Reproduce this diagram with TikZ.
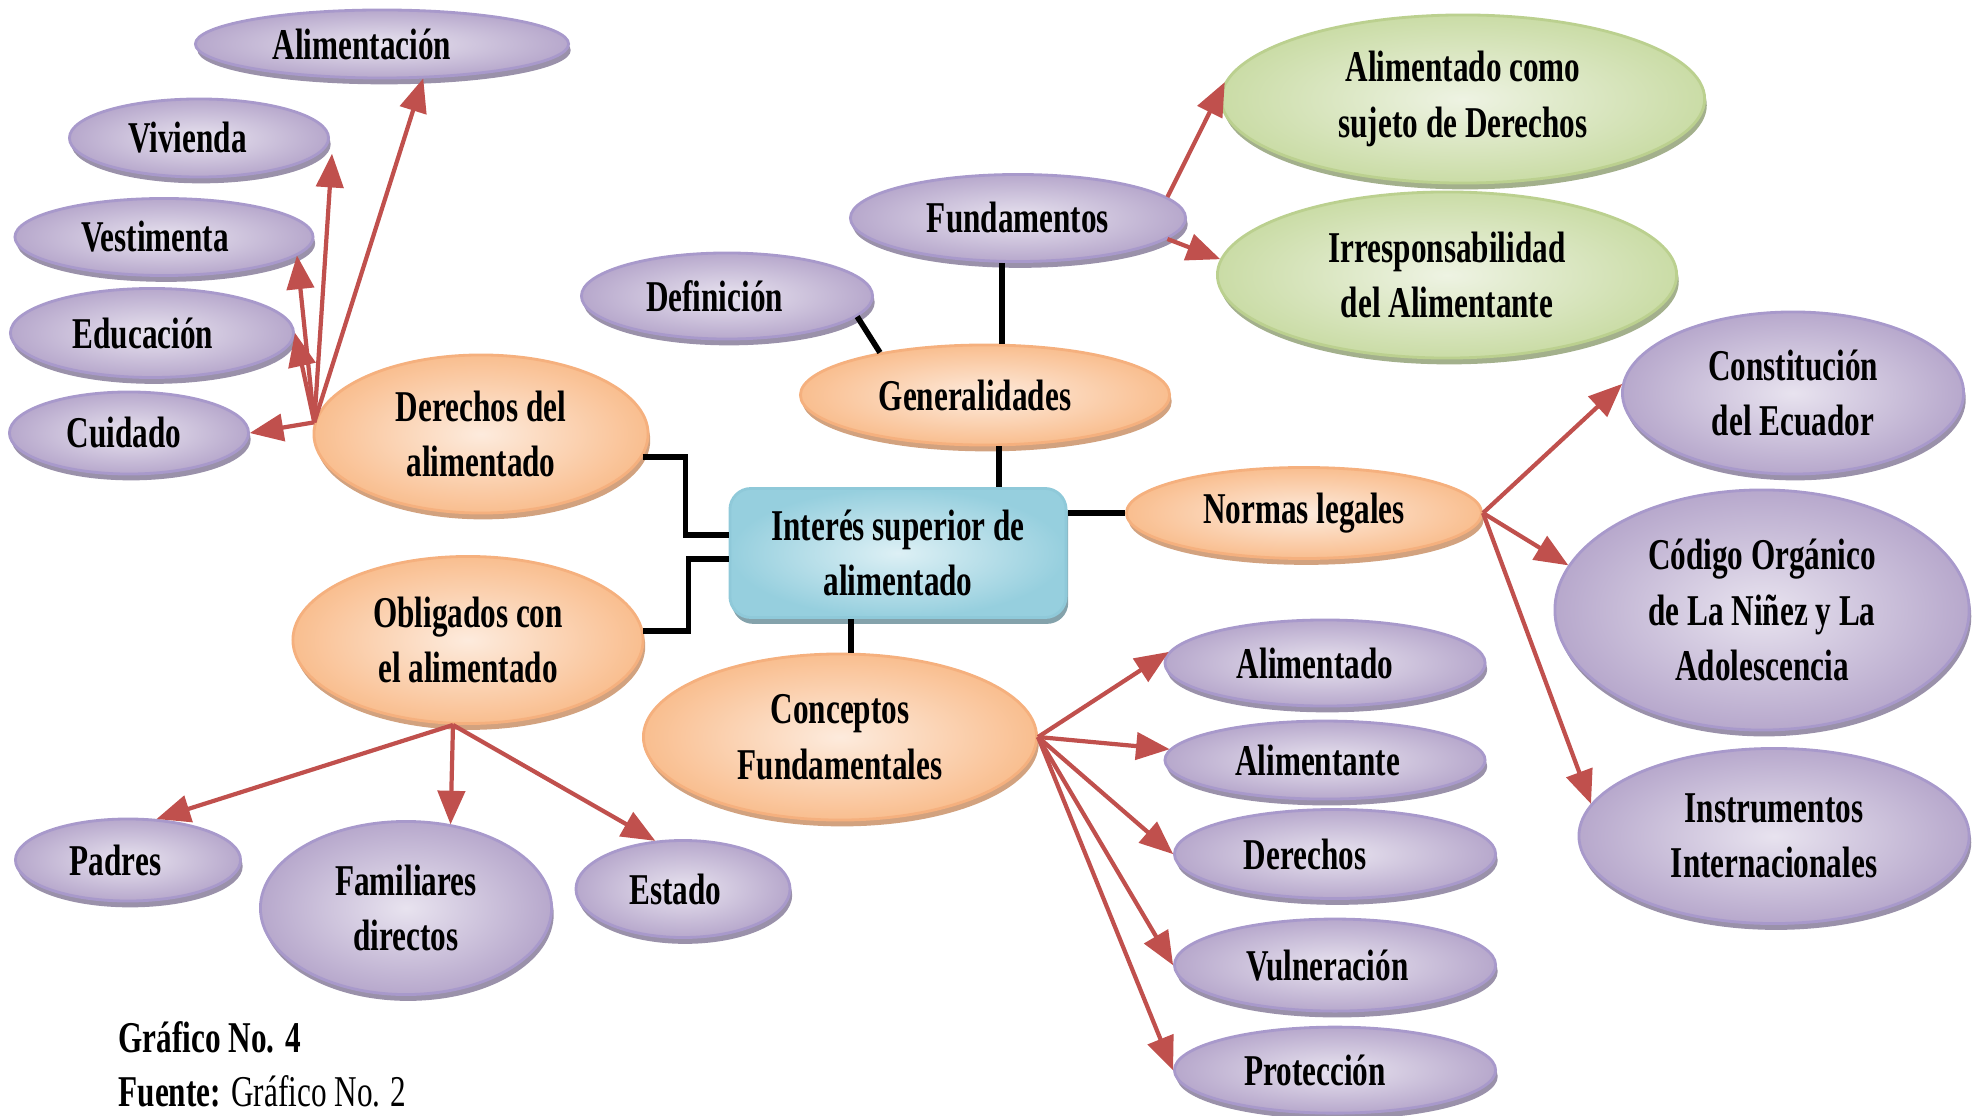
\documentclass[tikz,border=0pt]{standalone}
\usepackage{fontspec}
\setmainfont[FakeStretch=0.71]{Liberation Serif}
\usetikzlibrary{arrows,shapes,shadows,positioning}

\definecolor{lilaIn}{HTML}{E8E3EF}
\definecolor{lilaOut}{HTML}{B7A8CC}
\definecolor{lilaLine}{HTML}{A899CB}
\definecolor{lilaShadow}{HTML}{9A91AA}
\definecolor{naranjaIn}{HTML}{FDEBDD}
\definecolor{naranjaOut}{HTML}{F9BE8F}
\definecolor{naranjaLine}{HTML}{F5B07E}
\definecolor{naranjaShadow}{HTML}{D2A27F}
\definecolor{verdeIn}{HTML}{EEF3E3}
\definecolor{verdeOut}{HTML}{CADCA6}
\definecolor{verdeLine}{HTML}{BBD08F}
\definecolor{verdeShadow}{HTML}{A3B08C}
\definecolor{azulIn}{HTML}{DDF0F5}
\definecolor{azulOut}{HTML}{96CFDE}
\definecolor{azulLine}{HTML}{8FC9D9}
\definecolor{azulShadow}{HTML}{84A2AB}
\definecolor{flechaRoja}{HTML}{C0504D}

% texto un poco a la izquierda del centro
\newcommand{\izq}[1]{\hspace*{#1}}

\tikzset{
  oval/.style={ellipse, inner sep=0pt, align=center, line width=0.8pt,
               font=\fontsize{12.5}{15.8}\selectfont\bfseries},
  lila/.style={oval, draw=lilaLine, inner color=lilaIn, outer color=lilaOut,
               drop shadow={shadow xshift=0.6pt, shadow yshift=-1.8pt, fill=lilaShadow, opacity=1}},
  naranja/.style={oval, draw=naranjaLine, inner color=naranjaIn, outer color=naranjaOut,
               drop shadow={shadow xshift=0.6pt, shadow yshift=-1.8pt, fill=naranjaShadow, opacity=1}},
  verde/.style={oval, draw=verdeLine, inner color=verdeIn, outer color=verdeOut,
               drop shadow={shadow xshift=0.6pt, shadow yshift=-1.8pt, fill=verdeShadow, opacity=1}},
  caja/.style={rectangle, rounded corners=6pt, inner sep=0pt, align=center, line width=0.8pt,
               draw=azulLine, inner color=azulIn, outer color=azulOut,
               font=\fontsize{12.5}{15.8}\selectfont\bfseries,
               drop shadow={shadow xshift=0.6pt, shadow yshift=-1.8pt, fill=azulShadow, opacity=1}},
  link/.style={line width=1.6pt, draw=black},
  flecha/.style={line width=1.2pt, draw=flechaRoja, -triangle 45},
  pie/.style={anchor=west, inner sep=0pt, font=\fontsize{12.5}{15}\selectfont}
}

\begin{document}
\begin{tikzpicture}[x=0.01cm, y=-0.01cm]
  \useasboundingbox (0,0) rectangle (1983,1116);

  % centro
  \node[caja, minimum width=3.36cm, minimum height=1.29cm] (interes) at (898,553)
        {Interés superior de\\alimentado};

  % ramas naranja
  \node[naranja, minimum width=3.34cm, minimum height=1.58cm] (derechosAl) at (481,434)
        {Derechos del\\alimentado};
  \node[naranja, minimum width=3.50cm, minimum height=1.67cm] (obligados) at (468,640)
        {Obligados con\\el alimentado};
  \node[naranja, minimum width=3.69cm, minimum height=1.00cm] (generalidades) at (985,395)
        {Generalidades\izq{0.2cm}};
  \node[naranja, minimum width=3.55cm, minimum height=0.91cm] (normas) at (1304,513)
        {Normas legales};
  \node[naranja, minimum width=3.93cm, minimum height=1.66cm] (conceptos) at (840,737)
        {Conceptos\\Fundamentales};

  % derechos del alimentado
  \node[lila, minimum width=3.73cm, minimum height=0.68cm] (alimentacion) at (382,44) {Alimentación\izq{0.4cm}};
  \node[lila, minimum width=2.59cm, minimum height=0.78cm] (vivienda) at (199,138) {Vivienda\izq{0.23cm}};
  \node[lila, minimum width=2.98cm, minimum height=0.77cm] (vestimenta) at (164,237) {Vestimenta\izq{0.18cm}};
  \node[lila, minimum width=2.83cm, minimum height=0.89cm] (educacion) at (152,333) {Educación\izq{0.18cm}};
  \node[lila, minimum width=2.39cm, minimum height=0.82cm] (cuidado) at (129,433) {Cuidado\izq{0.1cm}};

  % generalidades
  \node[lila, minimum width=2.91cm, minimum height=0.86cm] (definicion) at (727,296) {Definición\izq{0.25cm}};
  \node[lila, minimum width=3.35cm, minimum height=0.87cm] (fundamentos) at (1018,218) {Fundamentos};
  \node[verde, minimum width=4.83cm, minimum height=1.68cm] (sujeto) at (1463,99)
        {Alimentado como\\sujeto de Derechos};
  \node[verde, minimum width=4.59cm, minimum height=1.66cm] (irresp) at (1447,275)
        {Irresponsabilidad\\del Alimentante};

  % normas legales
  \node[lila, minimum width=3.41cm, minimum height=1.62cm] (constitucion) at (1793,393)
        {Constitución\\del Ecuador};
  \node[lila, minimum width=4.14cm, minimum height=2.40cm] (codigo) at (1762,610)
        {Código Orgánico\\de La Niñez y La\\Adolescencia};
  \node[lila, minimum width=3.90cm, minimum height=1.75cm] (instrumentos) at (1774,836)
        {Instrumentos\\Internacionales};

  % conceptos fundamentales
  \node[lila, minimum width=3.20cm, minimum height=0.86cm] (alimentado) at (1325,663) {Alimentado\izq{0.2cm}};
  \node[lila, minimum width=3.20cm, minimum height=0.78cm] (alimentante)
        [below of=alimentado, node distance=0.97cm] {Alimentante\izq{0.15cm}};
  \node[lila, minimum width=3.21cm, minimum height=0.89cm] (derechos) at (1335,854) {Derechos\izq{0.6cm}};
  \node[lila, minimum width=3.21cm, minimum height=0.92cm] (vulneracion)
        [below of=derechos, node distance=1.11cm] {Vulneración\izq{0.15cm}};
  \node[lila, minimum width=3.21cm, minimum height=0.86cm] (proteccion)
        [below of=vulneracion, node distance=1.05cm] {Protección\izq{0.4cm}};

  % obligados
  \node[lila, minimum width=2.25cm, minimum height=0.82cm] (padres) at (128,860) {Padres\izq{0.25cm}};
  \node[lila, minimum width=2.91cm, minimum height=1.73cm] (familiares) at (406,908)
        {Familiares\\directos};
  \node[lila, minimum width=2.14cm, minimum height=0.97cm] (estado) at (683,889) {Estado\izq{0.15cm}};

  % pie
  \node[pie] (grafico) at (118,1037) {\bfseries Gráfico No. 4};
  \node[pie] (fuente) at (118,1091) {\textbf{Fuente:} Gráfico No. 2};

  % lineas negras
  \draw[link] (derechosAl.-8) -- ++(43,0) |- (interes.174);
  \draw[link] (obligados.3) -- ++(45,0) |- (interes.182);
  \draw[link] (generalidades.south) ++(14,0) coordinate (gBot) -- (gBot |- interes.north);
  \draw[link] (normas.west) -- (normas.west -| interes.east);
  \draw[link] (conceptos.north) ++(11,0) coordinate (cTop) -- (cTop |- interes.south);
  \draw[link] (definicion.-9) -- (generalidades.158);
  \draw[link] (fundamentos.south) ++(-16,0) coordinate (fBot) -- (fBot |- generalidades.north);

  % flechas
  \coordinate (hubDer) at (derechosAl.176);
  \draw[flecha] (hubDer) -- (cuidado.east);
  \draw[flecha] (hubDer) -- (educacion.east);
  \draw[flecha] (hubDer) -- (vestimenta.-8);
  \draw[flecha] (hubDer) -- ([xshift=0.02cm,yshift=-0.16cm]vivienda.east);
  \draw[flecha] (hubDer) -- (alimentacion.-40);

  \draw[flecha] (fundamentos.8) -- (sujeto.176);
  \draw[flecha] (fundamentos.-8) -- (irresp.176);

  \coordinate (hubNor) at (normas.east);
  \draw[flecha] (hubNor) -- (constitucion.177);
  \draw[flecha] (hubNor) -- (codigo.167);
  \draw[flecha] (hubNor) -- (instrumentos.170);

  \coordinate (hubCon) at (conceptos.east);
  \draw[flecha] (hubCon) -- (alimentado.176);
  \draw[flecha] (hubCon) -- (alimentante.176);
  \draw[flecha] (hubCon) -- (derechos.west);
  \draw[flecha] (hubCon) -- (vulneracion.west);
  \draw[flecha] (hubCon) -- (proteccion.west);

  \coordinate (hubObl) at ([xshift=-0.15cm]obligados.south);
  \draw[flecha] (hubObl) -- (padres.55);
  \draw[flecha] (hubObl) -- (familiares.62);
  \draw[flecha] (hubObl) -- (estado.120);
\end{tikzpicture}
\end{document}
